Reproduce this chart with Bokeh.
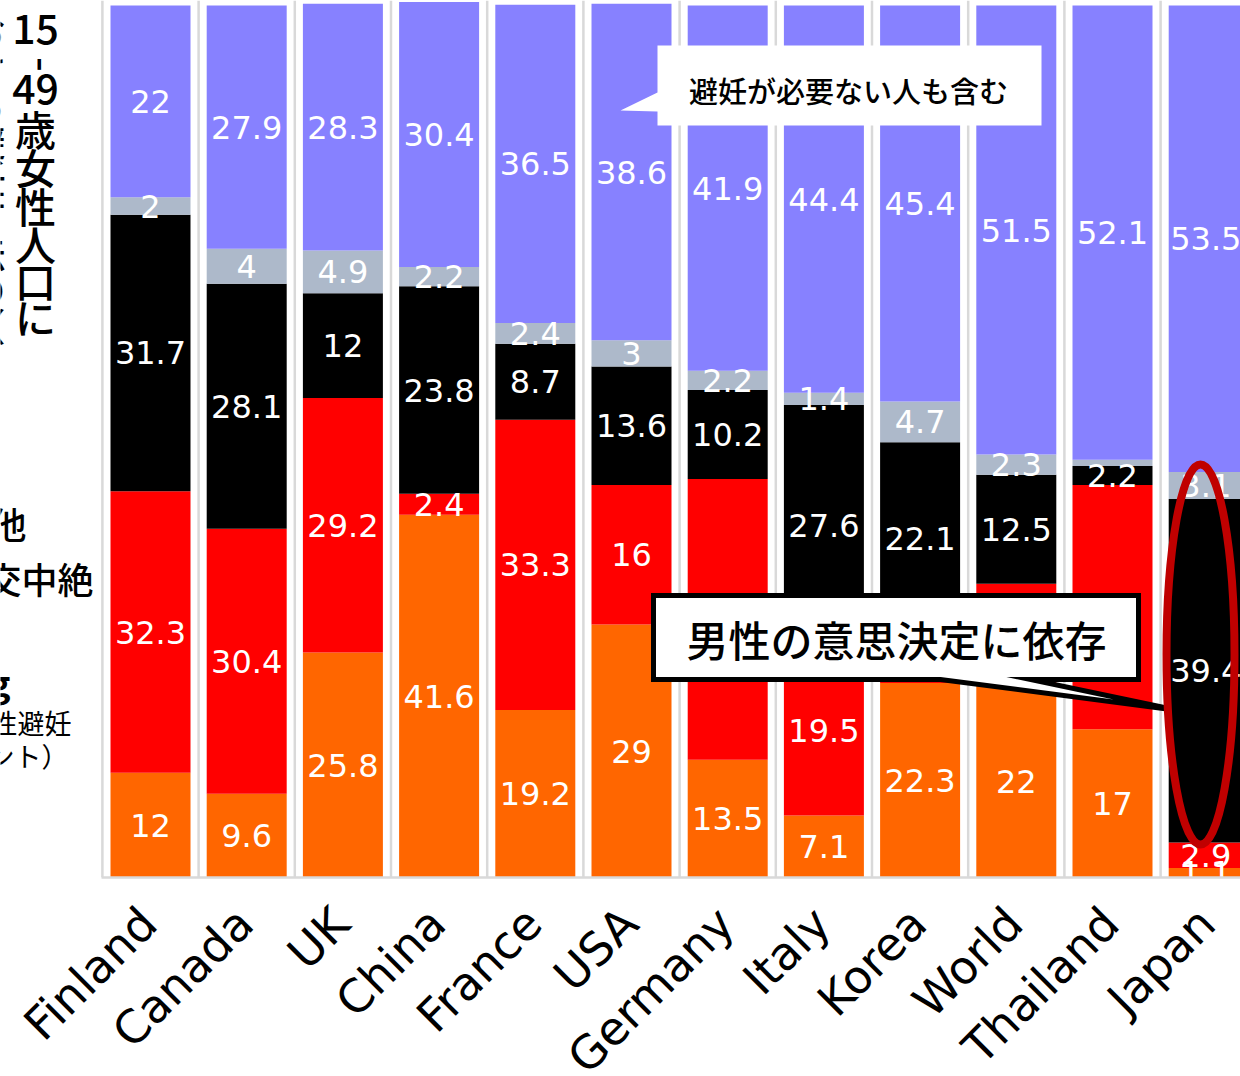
import math
from bokeh.plotting import figure
from bokeh.models import ColumnDataSource, Range1d
from bokeh.core.properties import value
from bokeh.embed import file_html
from bokeh.resources import INLINE

# ---------------- data ----------------
countries = ["Finland", "Canada", "UK", "China", "France", "USA",
             "Germany", "Italy", "Korea", "World", "Thailand", "Japan"]
orange = [12, 9.6, 25.8, 41.6, 19.2, 29, 13.5, 7.1, 22.3, 22, 17, 1.1]
red = [32.3, 30.4, 29.2, 2.4, 33.3, 16, 32.2, 19.5, 5.5, 11.7, 28.0, 2.9]
black = [31.7, 28.1, 12, 23.8, 8.7, 13.6, 10.2, 27.6, 22.1, 12.5, 2.2, 39.4]
gray = [2, 4, 4.9, 2.2, 2.4, 3, 2.2, 1.4, 4.7, 2.3, 0.7, 3.1]
purple = [22, 27.9, 28.3, 30.4, 36.5, 38.6, 41.9, 44.4, 45.4, 51.5, 52.1, 53.5]

series = ["orange", "red", "black", "gray", "purple"]
series_values = [orange, red, black, gray, purple]
colors = ["#FF6600", "#FF0000", "#000000", "#ADB9CA", "#8781FF"]

# ---------------- geometry helpers (pixel -> data) ----------------
W, H = 1240, 1076
X0PX, XSTEP = 150.0, 96.2      # centre of first bar, pitch
Y0PX, YSCALE = 877.0, 8.72     # baseline pixel, px per unit

JP_MED = value("Noto Sans CJK JP Medium")
JP = value("Noto Sans CJK JP")


def px2x(px):
    return (px - X0PX) / XSTEP


def py2y(py):
    return (Y0PX - py) / YSCALE


p = figure(width=W, height=H, output_backend="svg", toolbar_location=None,
           x_range=Range1d(px2x(0), px2x(W)), y_range=Range1d(py2y(H), py2y(0)),
           x_axis_type=None, y_axis_type=None, min_border=0, title=None)
p.grid.visible = False
p.outline_line_color = None
p.background_fill_color = "white"
p.border_fill_color = "white"

n = len(countries)
xs = list(range(n))

# separators
bounds = [i - 0.5 for i in range(n + 1)]
p.segment(x0=bounds, y0=[0] * len(bounds), x1=bounds, y1=[py2y(0)] * len(bounds),
          line_color="#D9D9D9", line_width=2.5)

# stacked bars
data = {"x": xs}
for name, vals in zip(series, series_values):
    data[name] = vals
src = ColumnDataSource(data)
p.vbar_stack(series, x="x", width=80 / XSTEP, fill_color=colors, line_color=None, source=src)

# segment labels
lx, ly, lt = [], [], []
for i in range(n):
    cum = 0.0
    for vals in series_values:
        v = vals[i]
        if v >= 1.0:
            lx.append(i - (0.03 if i == n - 1 else 0))
            ly.append(cum + v / 2)
            lt.append(f"{v:g}")
        cum += v
p.text(x=lx, y=ly, text=lt, text_color="white", text_align="center",
       text_baseline="middle", text_font=value("DejaVu Sans"), text_font_size="32px")

# cover below baseline (labels are clipped by plot area in original)
p.quad(left=[px2x(0)], right=[px2x(W)], bottom=[py2y(H)], top=[0],
       fill_color="white", line_color=None)
p.segment(x0=[px2x(101)], y0=[0], x1=[px2x(W)], y1=[0], line_color="#D9D9D9", line_width=2.5)

# category labels
p.text(x=[i - 0.02 for i in xs], y=[py2y(915)] * n, text=countries, angle=math.pi / 4,
       text_align="right", text_baseline="middle", text_color="black",
       text_font=value("DejaVu Sans"), text_font_size="46px")

# ---------------- callout 1 ----------------
c1x = [657, 1041, 1041, 657, 657, 620, 657]
c1y = [45, 45, 125, 125, 111, 110, 92]
p.patch([px2x(v) for v in c1x], [py2y(v) for v in c1y], fill_color="white", line_color=None)
p.text(x=[px2x(848)], y=[py2y(89)], text=["避妊が必要ない人も含む"], text_align="center",
       text_baseline="middle", text_color="black",
       text_font=JP_MED, text_font_size="29px")

# ---------------- callout 2 ----------------
c2x = [653, 1138, 1138, 1030, 1178, 940, 653]
c2y = [595, 595, 679, 679, 710, 679, 679]
p.patch([px2x(v) for v in c2x], [py2y(v) for v in c2y], fill_color="white",
        line_color="black", line_width=5, line_join="miter")
p.text(x=[px2x(896)], y=[py2y(638)], text=["男性の意思決定に依存"], text_align="center",
       text_baseline="middle", text_color="black",
       text_font=JP_MED, text_font_size="42px")

# red ellipse around Japan
p.ellipse(x=[px2x(1200)], y=[py2y(654)], width=[68 / XSTEP], height=[380 / YSCALE],
          fill_color=None, line_color="#C00000", line_width=8)

# ---------------- cut-off vertical title on the left ----------------
title_chars = ["15", "-", "49", "歳", "女", "性", "人", "口", "に"]
title_ys = [28, 64, 88, 127, 165, 204, 242, 279, 315]
for ch, yy in zip(title_chars, title_ys):
    p.text(x=[px2x(35)], y=[py2y(yy)], text=[ch], angle=(math.pi / 2 if ch == "-" else 0),
           text_align="center", text_baseline="middle", text_color="black",
           text_font=JP_MED, text_font_size="41px")

col2_chars = ["お", "け", "る", "避", "妊", "方", "法", "の", "（"]
for k, ch in enumerate(col2_chars):
    p.text(x=[px2x(-14)], y=[py2y(28 + 37 * k)], text=[ch], text_align="center",
           text_baseline="middle", text_color="black",
           text_font=JP_MED, text_font_size="38px")

# cut-off legend texts on the left
p.text(x=[px2x(26)], y=[py2y(522)], text=["その他"], text_align="right",
       text_baseline="middle", text_color="black",
       text_font=JP_MED, text_font_size="36px")
p.text(x=[px2x(93)], y=[py2y(577)], text=["膣外射精・性交中絶"], text_align="right",
       text_baseline="middle", text_color="black",
       text_font=JP_MED, text_font_size="36px")
p.text(x=[px2x(10)], y=[py2y(680)], text=["Planning"], text_align="right",
       text_baseline="middle", text_color="black", text_font_style="bold",
       text_font=JP, text_font_size="36px")
p.text(x=[px2x(71)], y=[py2y(722)], text=["（女性避妊"], text_align="right",
       text_baseline="middle", text_color="black",
       text_font=JP, text_font_size="27px")
p.text(x=[px2x(68)], y=[py2y(755)], text=["（%ポイント）"], text_align="right",
       text_baseline="middle", text_color="black",
       text_font=JP, text_font_size="27px")

open("out.html", "w").write(file_html(p, INLINE))
